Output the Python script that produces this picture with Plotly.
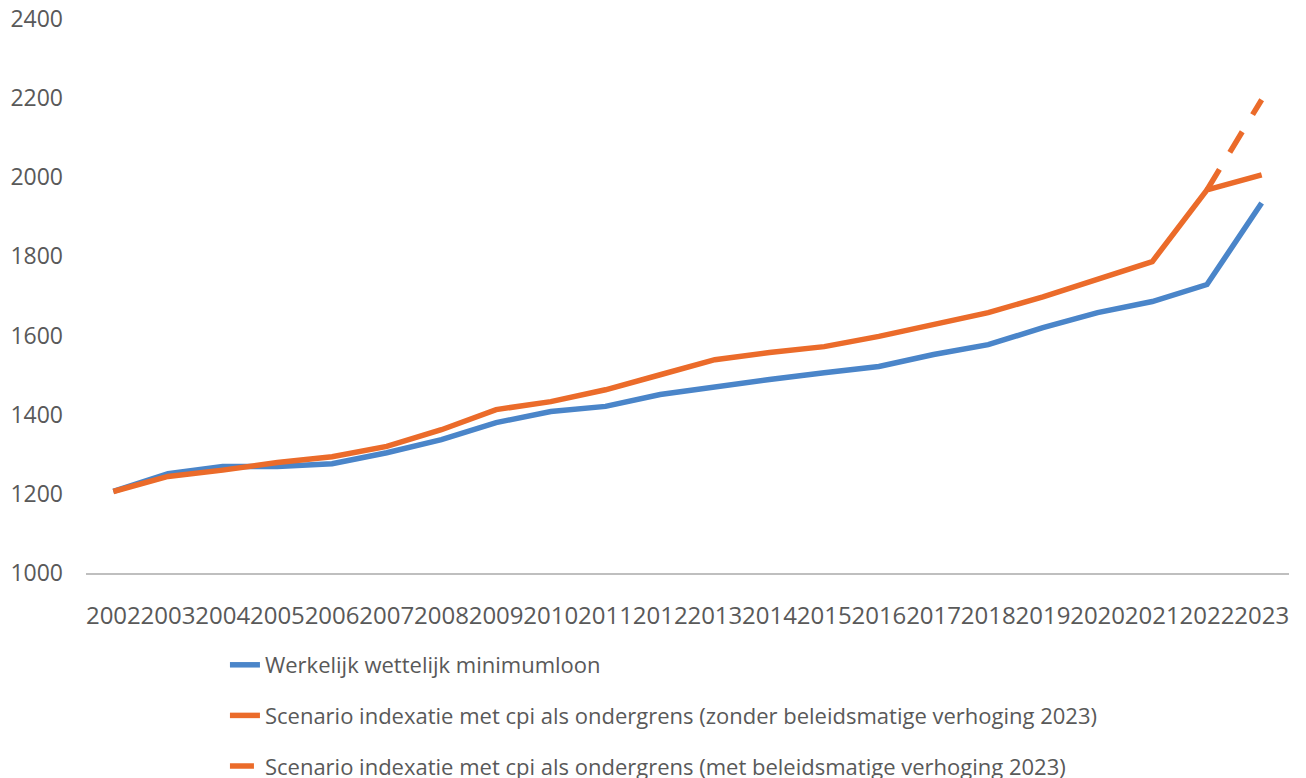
import plotly.graph_objects as go

years = [str(y) for y in range(2002, 2024)]
werkelijk = [1206, 1251, 1269, 1269, 1276, 1304, 1337, 1380, 1408, 1421, 1451, 1471,
             1489, 1506, 1522, 1552, 1577, 1620, 1658, 1686, 1729, 1935]
scenario_zonder = [1206, 1244, 1260, 1279, 1294, 1320, 1362, 1413, 1433, 1463, 1501, 1539,
                   1557, 1572, 1598, 1628, 1658, 1698, 1741, 1787, 1968, 2006]
scenario_met = [None] * 20 + [1968, 2196]

names = [
    "Werkelijk wettelijk minimumloon",
    "Scenario indexatie met cpi als ondergrens (zonder beleidsmatige verhoging 2023)",
    "Scenario indexatie met cpi als ondergrens (met beleidsmatige verhoging 2023)",
]

blue = "#4A85C9"
orange = "#EB6B2A"
font = "Open Sans"
txt = "#595959"

fig = go.Figure()
fig.add_trace(go.Scatter(x=years, y=werkelijk, mode="lines", name=names[0],
                         line=dict(color=blue, width=5.5), legendgroup="a"))
fig.add_trace(go.Scatter(x=years, y=scenario_zonder, mode="lines", name=names[1],
                         line=dict(color=orange, width=5.5), legendgroup="b"))
fig.add_trace(go.Scatter(x=years, y=scenario_met, mode="lines", name=names[2],
                         line=dict(color=orange, width=5.5, dash="24px,20px"),
                         legendgroup="c", connectgaps=False))

fig.update_layout(
    width=1306, height=778,
    margin=dict(l=78, r=25, t=11, b=212.5, autoexpand=False),
    paper_bgcolor="white", plot_bgcolor="white",
    font=dict(family=font, size=22, color=txt),
    showlegend=True,
    legend=dict(
        orientation="v", x=0.1155, xanchor="left",
        yref="container", y=1 - 636 / 778, yanchor="top",
        font=dict(family=font, size=22, color=txt),
        tracegroupgap=19, bgcolor="rgba(0,0,0,0)",
    ),
)
fig.update_xaxes(
    type="category", range=[-0.5, 21.5],
    showgrid=False, showline=True, linecolor="#BFBFBF", linewidth=1.5,
    ticks="", ticklabelstandoff=20, tickangle=0, ticklabeloverflow="allow",
    tickfont=dict(family=font, size=24, color=txt),
)
fig.update_yaxes(
    range=[1000, 2400], dtick=200, showgrid=False, zeroline=False,
    ticks="", ticklabelstandoff=22, ticklabeloverflow="allow",
    tickfont=dict(family=font, size=23, color=txt),
)

fig.write_html("out.html")
